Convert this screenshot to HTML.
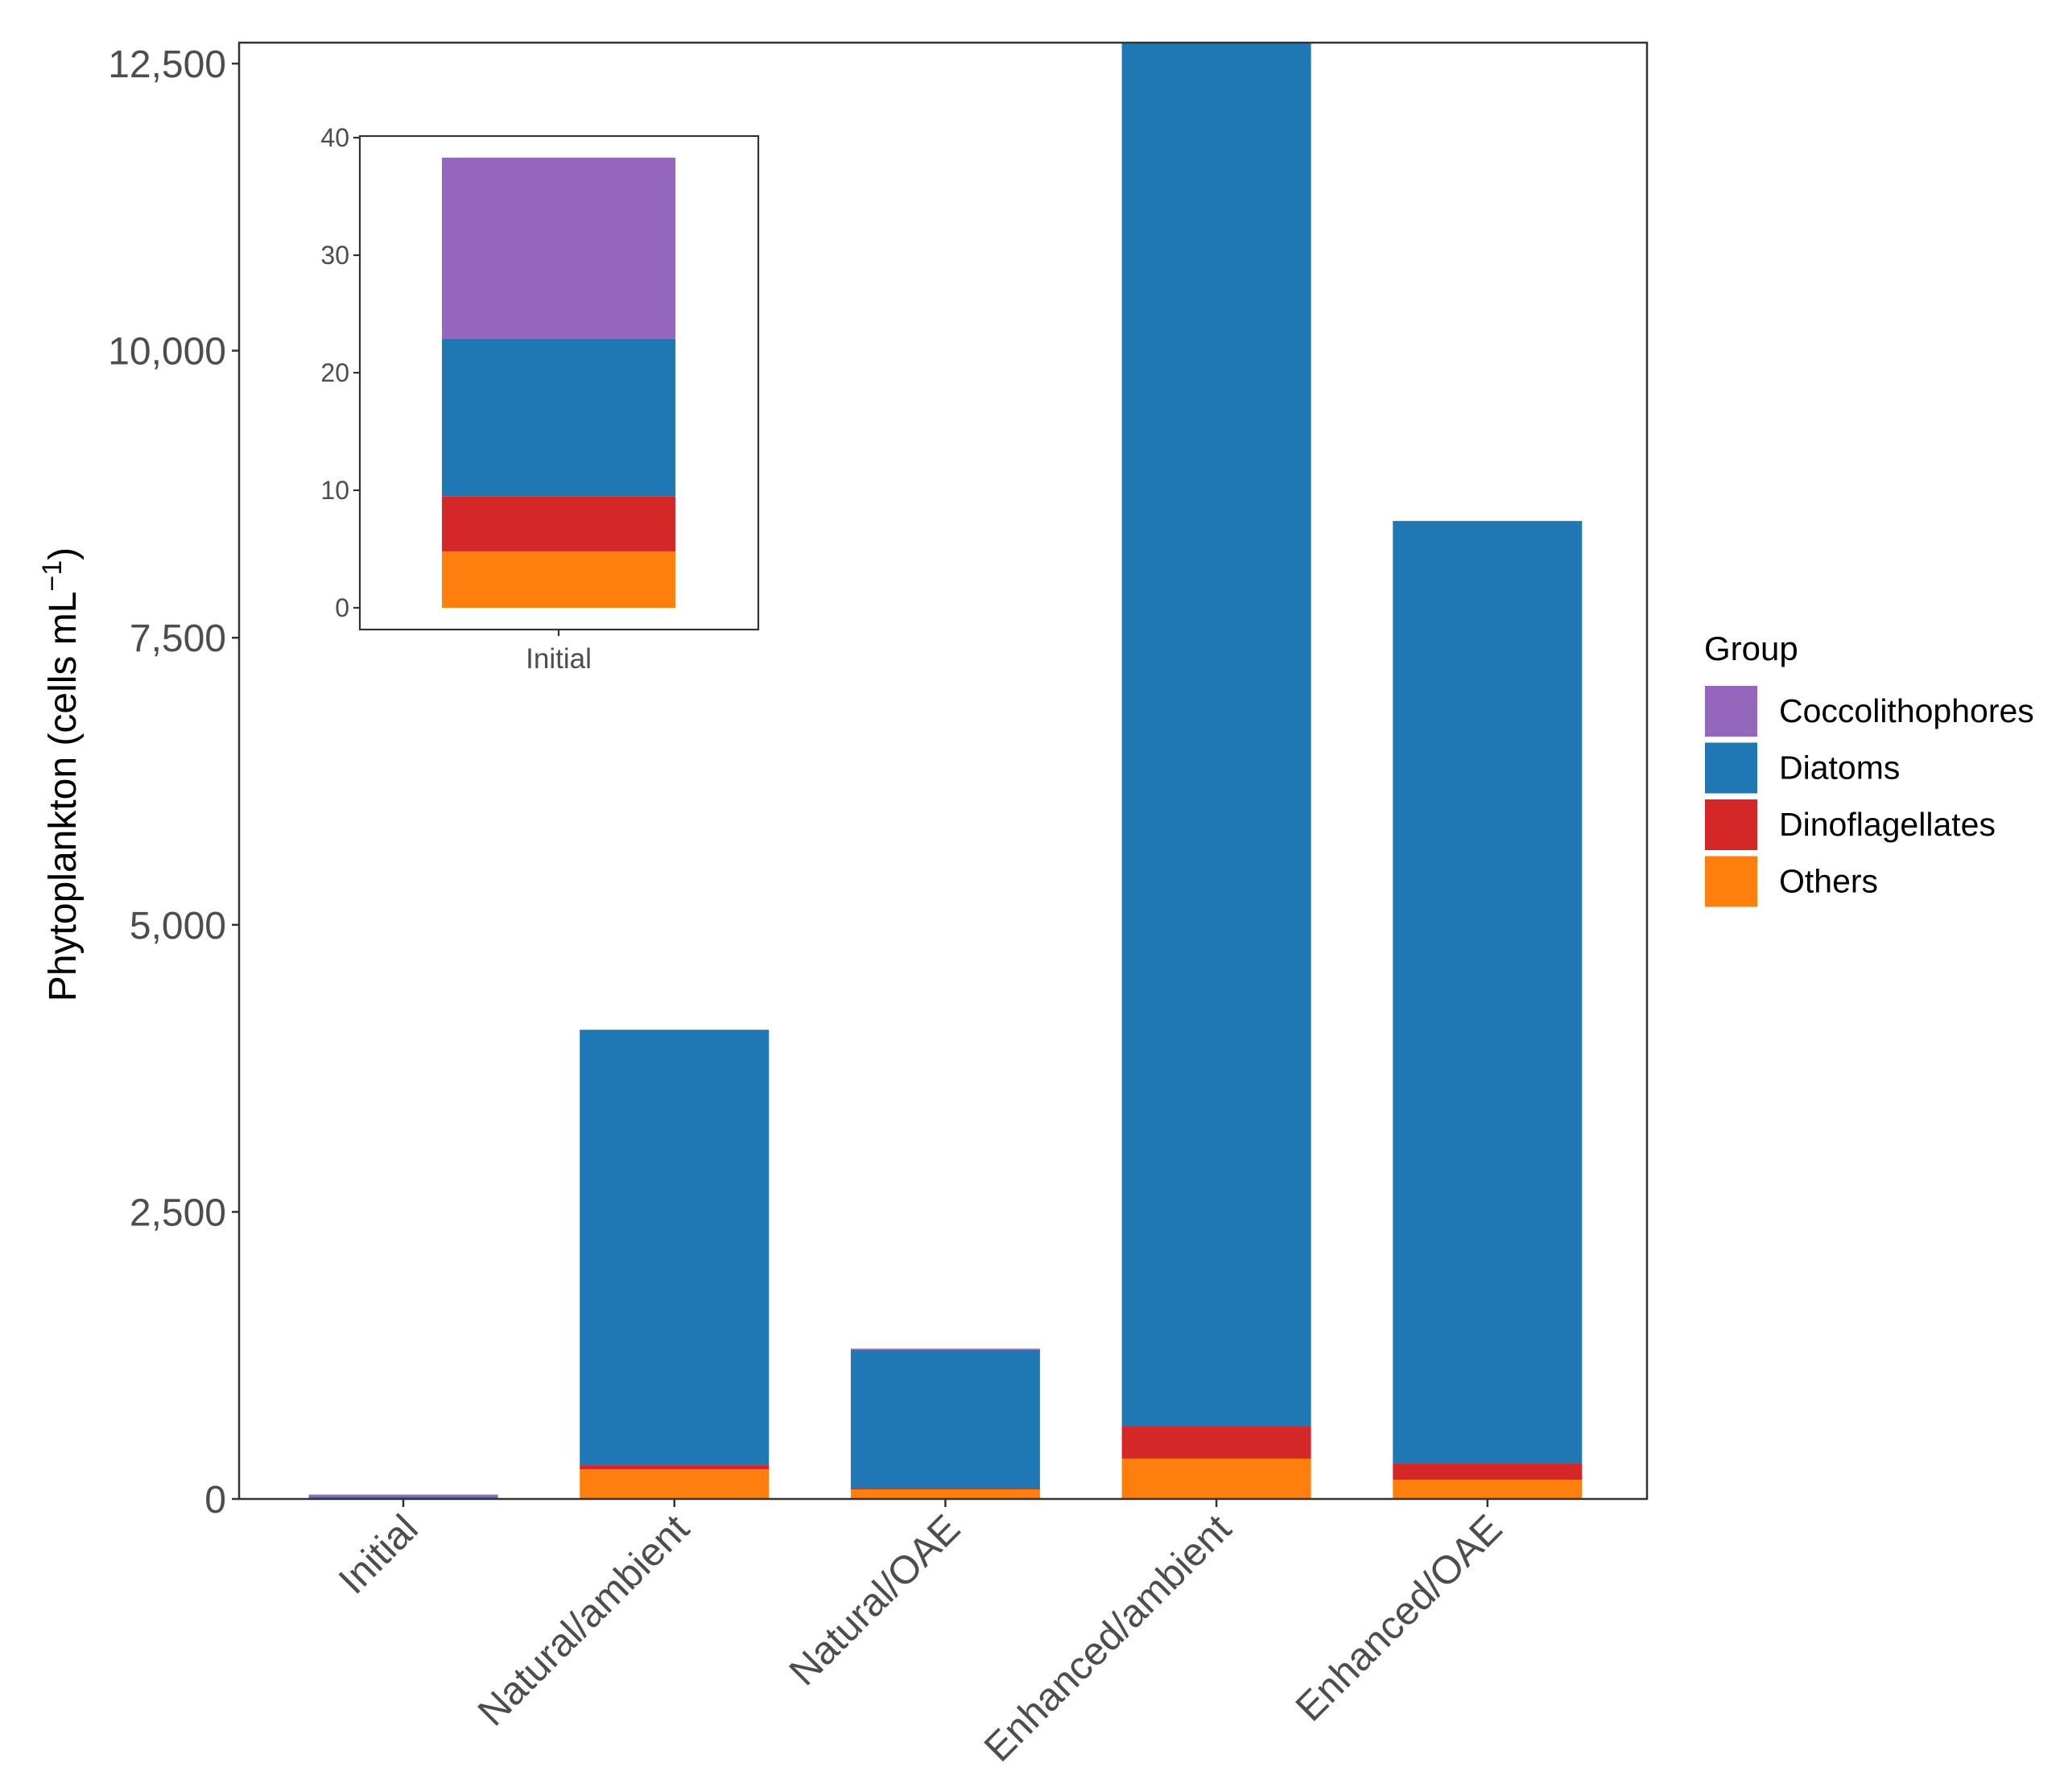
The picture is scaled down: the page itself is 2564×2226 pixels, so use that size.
<!DOCTYPE html>
<html><head><meta charset="utf-8"><style>
html,body{margin:0;padding:0;background:#fff;}
svg{display:block;font-family:"Liberation Sans",Arial,sans-serif;}
</style></head><body>
<svg id="chart" width="2564" height="2226" viewBox="0 0 2564 2226" xmlns="http://www.w3.org/2000/svg">
<g id="main"></g>
<g id="inset"></g>
<g id="legend"></g>
</svg>
<script>
const categories = ["Initial","Natural/ambient","Natural/OAE","Enhanced/ambient","Enhanced/OAE"];
const groups = ["Others","Dinoflagellates","Diatoms","Coccolithophores"];
const others = [4.8, 259, 84, 351, 168];
const dinoflagellates = [4.7, 35, 10, 280, 140];
const diatoms = [13.4, 3792, 1205, 12200, 8209];
const coccolithophores = [15.4, 0, 10, 0, 0];
const yTicks = [0, 2500, 5000, 7500, 10000, 12500];
const yTickLabels = ["0","2,500","5,000","7,500","10,000","12,500"];
const insetTicks = [0, 10, 20, 30, 40];
const insetTickLabels = ["0","10","20","30","40"];
const legendLabels = ["Coccolithophores","Diatoms","Dinoflagellates","Others"];

const colors = {Others:"#ff7f0e",Dinoflagellates:"#d62728",Diatoms:"#1f77b4",Coccolithophores:"#9467bd"};
const series = {Others:others,Dinoflagellates:dinoflagellates,Diatoms:diatoms,Coccolithophores:coccolithophores};
const NS="http://www.w3.org/2000/svg";
function mk(tag, attrs, parent){const e=document.createElementNS(NS,tag);for(const k in attrs)e.setAttribute(k,attrs[k]);parent.appendChild(e);return e;}

const P={l:297,r:2046,t:53,b:1862};
const yScale=v=>1862-(v/2500)*356.6;
const xCenter=i=>501+i*336.7, barW=235;
const main=document.getElementById('main');
const clip=mk('clipPath',{id:'pc'},main);
mk('rect',{x:P.l,y:P.t,width:P.r-P.l,height:P.b-P.t},clip);
const bars=mk('g',{'clip-path':'url(#pc)'},main);
categories.forEach((c,i)=>{
  let cum=0;
  groups.forEach(g=>{
    const v=series[g][i]; if(v<=0)return;
    const y1=yScale(cum), y2=yScale(cum+v);
    const r=mk('rect',{x:xCenter(i)-barW/2,y:y2,width:barW,height:Math.max(y1-y2,1.5),fill:colors[g]},bars);
    
    
    cum+=v;
  });
});
mk('rect',{x:P.l,y:P.t,width:P.r-P.l,height:P.b-P.t,fill:'none',stroke:'#333',"stroke-width":2.5},main);
yTicks.forEach((v,i)=>{
  const y=yScale(v);
  mk('line',{x1:P.l-9,x2:P.l,y1:y,y2:y,stroke:'#333',"stroke-width":2.5},main);
  const t=mk('text',{x:P.l-16,y:y+17,'text-anchor':'end','font-size':48,fill:'#4d4d4d'},main);
  t.textContent=yTickLabels[i];
  
  
});
categories.forEach((c,i)=>{
  const x=xCenter(i);
  mk('line',{x1:x,x2:x,y1:P.b,y2:P.b+10,stroke:'#333',"stroke-width":2.5},main);
  const t=mk('text',{x:0,y:0,'text-anchor':'end','font-size':49,fill:'#4d4d4d',transform:`translate(${x+21},${P.b+40}) rotate(-45)`},main);
  t.textContent=c;
  
  
});
const yt=mk('text',{x:0,y:0,'text-anchor':'middle','font-size':48,fill:'#000',transform:'translate(94,962) rotate(-90)'},main);


yt.innerHTML='Phytoplankton (cells mL<tspan dy="-18" font-size="34">−1</tspan><tspan dy="18">)</tspan>';

const I={l:447,r:942,t:169,b:782};
const iy=v=>755-v*14.6;
const inset=document.getElementById('inset');
mk('rect',{x:I.l,y:I.t,width:I.r-I.l,height:I.b-I.t,fill:'#fff'},inset);
let cum=0;
groups.forEach(g=>{
  const v=series[g][0]; if(v<=0)return;
  const r=mk('rect',{x:549,y:iy(cum+v),width:290,height:iy(cum)-iy(cum+v),fill:colors[g]},inset);
  
  
  cum+=v;
});
mk('rect',{x:I.l,y:I.t,width:I.r-I.l,height:I.b-I.t,fill:'none',stroke:'#333',"stroke-width":2.2},inset);
insetTicks.forEach((v,i)=>{
  const y=iy(v);
  mk('line',{x1:I.l-8,x2:I.l,y1:y,y2:y,stroke:'#333',"stroke-width":2.2},inset);
  const t=mk('text',{x:I.l-13,y:y+11,'text-anchor':'end','font-size':32,fill:'#4d4d4d'},inset);
  t.textContent=insetTickLabels[i];
  
  
});
mk('line',{x1:694,x2:694,y1:I.b,y2:I.b+8,stroke:'#333',"stroke-width":2.2},inset);
const il=mk('text',{x:694,y:830,'text-anchor':'middle','font-size':35,fill:'#4d4d4d'},inset);
il.textContent='Initial';



const L=document.getElementById('legend');
const gt=mk('text',{x:2117,y:820,'font-size':42,fill:'#000'},L);
gt.textContent='Group';


legendLabels.forEach((g,i)=>{
  const y=852+i*70.5;
  const r=mk('rect',{x:2118,y:y,width:65,height:63,fill:colors[g]},L);
  
  
  const t=mk('text',{x:2210,y:y+45,'font-size':41,fill:'#000'},L);
  t.textContent=g;
  
  
});
</script>
</body></html>
